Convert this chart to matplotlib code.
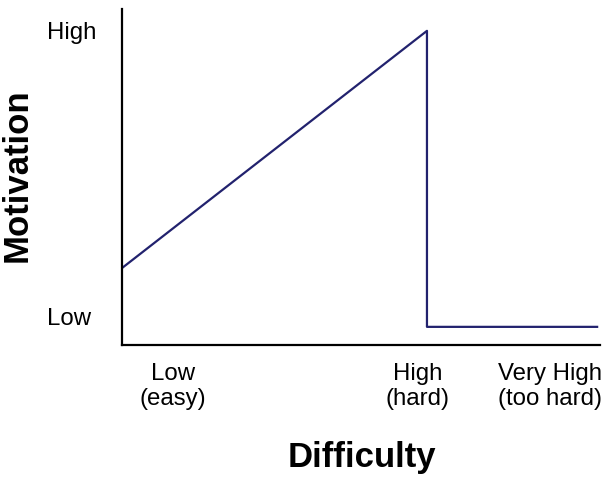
import matplotlib.pyplot as plt

# Motivation vs. difficulty (schematic)
x_vals = [0, 6.38, 6.38, 9.94]
y_vals = [2.29, 9.35, 0.54, 0.54]

x_tick_pos = [1.07, 6.19, 8.95]
x_tick_labels = ["Low\n(easy)", "High\n(hard)", "Very High\n(too hard)"]
y_tick_pos = [0.89, 9.4]
y_tick_labels = ["Low", "High"]

plt.rcParams["font.family"] = ["Liberation Sans", "DejaVu Sans"]

fig = plt.figure(figsize=(6.14, 4.85), dpi=100)
ax = fig.add_axes([122 / 614, 1 - 346 / 485, 478 / 614, 336 / 485])

ax.plot(x_vals, y_vals, color="#22226e", linewidth=1.6)

ax.set_xlim(0, 10)
ax.set_ylim(0, 10)

ax.spines["top"].set_visible(False)
ax.spines["right"].set_visible(False)
ax.spines["left"].set_linewidth(1.6)
ax.spines["bottom"].set_linewidth(1.6)

ax.set_xticks(x_tick_pos)
ax.set_xticklabels(x_tick_labels, fontsize=17.3, linespacing=1.2)
ax.set_yticks(y_tick_pos)
ax.set_yticklabels(y_tick_labels, fontsize=17.3, ha="left")
ax.tick_params(axis="x", length=0, pad=12)
ax.tick_params(axis="y", length=0, pad=54)

fig.text(17 / 614, 1 - 175 / 485, "Motivation", rotation=90, fontsize=25,
         fontweight="bold", ha="center", va="center")
fig.text(362 / 614, 1 - 458 / 485, "Difficulty", fontsize=25,
         fontweight="bold", ha="center", va="center")

fig.savefig("out.png", dpi=100)
